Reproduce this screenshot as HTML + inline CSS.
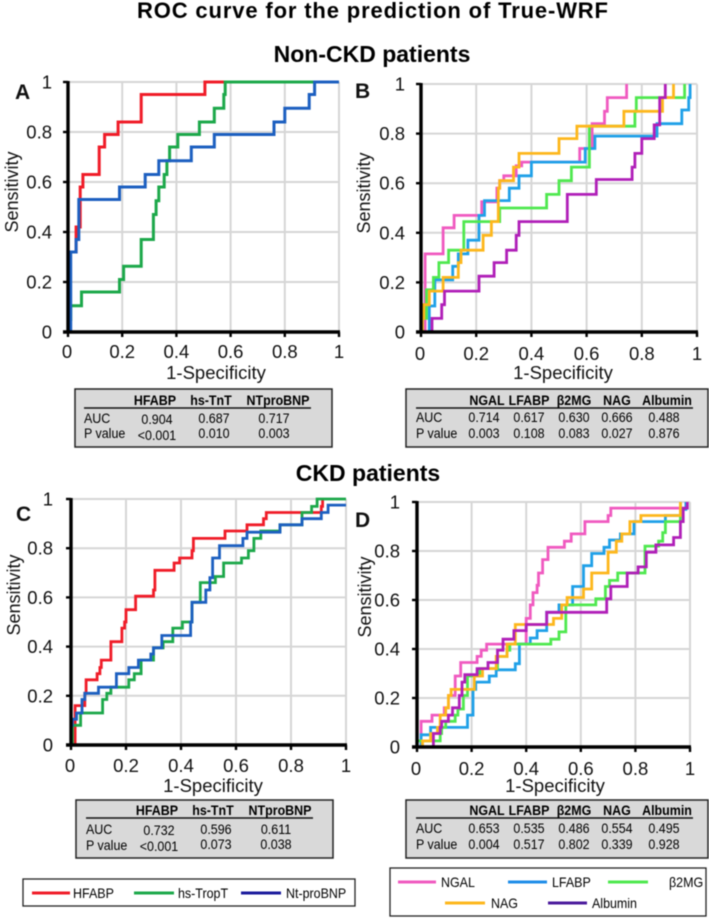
<!DOCTYPE html>
<html lang="en">
<head>
<meta charset="utf-8">
<title>ROC curve for the prediction of True-WRF</title>
<style>
html,body{margin:0;padding:0;background:#fff;}
body{width:709px;height:918px;overflow:hidden;}
svg{display:block;font-family:"Liberation Sans",sans-serif;filter:blur(0.45px);}
.tb{font-size:14px;font-weight:bold;text-anchor:middle;fill:#000;}
.tv{font-size:14px;text-anchor:middle;fill:#000;}
.tl{font-size:14px;fill:#000;}
.lg{font-size:14px;fill:#000;}
.box{fill:#d9d9d9;stroke:#222;stroke-width:1.5;}
.rule{stroke:#111;stroke-width:1.5;}
</style>
</head>
<body>
<svg id="figure" xmlns="http://www.w3.org/2000/svg" width="709" height="918" viewBox="0 0 709 918">
  <text x="137" y="18" font-size="22" font-weight="bold" textLength="471" lengthAdjust="spacing" fill="#000">ROC curve for the prediction of True-WRF</text>
  <text x="372" y="62" font-size="23" font-weight="bold" text-anchor="middle" fill="#000">Non-CKD patients</text>
  <text x="368" y="481" font-size="23" font-weight="bold" text-anchor="middle" fill="#000">CKD patients</text>

  <g id="panels"></g>

  <g>
    <rect class="box" x="75" y="389" width="257" height="58"/>
    <line class="rule" x1="84" x2="311" y1="408" y2="408"/>
    <text class="tb" x="155" y="405">HFABP</text><text class="tb" x="211" y="405">hs-TnT</text><text class="tb" x="278" y="405">NTproBNP</text>
    <text class="tl" x="84" y="423">AUC</text><text class="tv" x="157" y="424">0.904</text><text class="tv" x="214" y="423">0.687</text><text class="tv" x="274" y="423">0.717</text>
    <text class="tl" x="84" y="438">P value</text><text class="tv" x="157" y="440">&lt;0.001</text><text class="tv" x="214" y="438">0.010</text><text class="tv" x="274" y="438">0.003</text>
  </g>
  <g>
    <rect class="box" x="406" y="389" width="302" height="58"/>
    <line class="rule" x1="416" x2="693" y1="408" y2="408"/>
    <text class="tb" x="487" y="405">NGAL</text><text class="tb" x="529" y="405">LFABP</text><text class="tb" x="574" y="405" font-family="'Liberation Sans','DejaVu Sans',sans-serif">β2MG</text><text class="tb" x="617" y="405">NAG</text><text class="tb" x="667" y="405">Albumin</text>
    <text class="tl" x="416" y="422">AUC</text><text class="tv" x="484" y="422">0.714</text><text class="tv" x="529" y="422">0.617</text><text class="tv" x="574" y="422">0.630</text><text class="tv" x="617" y="422">0.666</text><text class="tv" x="664" y="422">0.488</text>
    <text class="tl" x="416" y="438">P value</text><text class="tv" x="484" y="438">0.003</text><text class="tv" x="529" y="438">0.108</text><text class="tv" x="574" y="438">0.083</text><text class="tv" x="617" y="438">0.027</text><text class="tv" x="664" y="438">0.876</text>
  </g>
  <g>
    <rect class="box" x="76" y="800" width="257" height="58"/>
    <line class="rule" x1="86" x2="313" y1="818" y2="818"/>
    <text class="tb" x="157" y="815">HFABP</text><text class="tb" x="213" y="815">hs-TnT</text><text class="tb" x="280" y="815">NTproBNP</text>
    <text class="tl" x="86" y="834">AUC</text><text class="tv" x="159" y="835">0.732</text><text class="tv" x="216" y="834">0.596</text><text class="tv" x="276" y="834">0.611</text>
    <text class="tl" x="86" y="850">P value</text><text class="tv" x="159" y="851">&lt;0.001</text><text class="tv" x="216" y="849">0.073</text><text class="tv" x="276" y="849">0.038</text>
  </g>
  <g>
    <rect class="box" x="406" y="800" width="302" height="58"/>
    <line class="rule" x1="416" x2="693" y1="818" y2="818"/>
    <text class="tb" x="487" y="815">NGAL</text><text class="tb" x="529" y="815">LFABP</text><text class="tb" x="574" y="815" font-family="'Liberation Sans','DejaVu Sans',sans-serif">β2MG</text><text class="tb" x="617" y="815">NAG</text><text class="tb" x="667" y="815">Albumin</text>
    <text class="tl" x="416" y="833">AUC</text><text class="tv" x="484" y="833">0.653</text><text class="tv" x="529" y="833">0.535</text><text class="tv" x="574" y="833">0.486</text><text class="tv" x="617" y="833">0.554</text><text class="tv" x="664" y="833">0.495</text>
    <text class="tl" x="416" y="849">P value</text><text class="tv" x="484" y="849">0.004</text><text class="tv" x="529" y="849">0.517</text><text class="tv" x="574" y="849">0.802</text><text class="tv" x="617" y="849">0.339</text><text class="tv" x="664" y="849">0.928</text>
  </g>

  <g>
    <rect x="23" y="879" width="332" height="27" fill="#fff" stroke="#222" stroke-width="1.3"/>
    <line x1="32" x2="70" y1="893" y2="893" stroke="#f01c28" stroke-width="3"/>
    <text class="lg" x="73" y="898">HFABP</text>
    <line x1="134" x2="174" y1="893" y2="893" stroke="#1ca84a" stroke-width="3"/>
    <text class="lg" x="178" y="898">hs-TropT</text>
    <line x1="241" x2="281" y1="893" y2="893" stroke="#1a1a9c" stroke-width="3"/>
    <text class="lg" x="286" y="898">Nt-proBNP</text>
  </g>
  <g>
    <rect x="390" y="868" width="316" height="48" fill="#fff" stroke="#222" stroke-width="1.3"/>
    <line x1="398" x2="436" y1="882" y2="882" stroke="#f05ac0" stroke-width="3"/>
    <text class="lg" x="441" y="887">NGAL</text>
    <line x1="508" x2="547" y1="882" y2="882" stroke="#1f8ee8" stroke-width="3"/>
    <text class="lg" x="552" y="887">LFABP</text>
    <line x1="608" x2="648" y1="882" y2="882" stroke="#4fe84f" stroke-width="3"/>
    <text class="lg" x="669" y="887">β2MG</text>
    <line x1="445" x2="485" y1="903" y2="903" stroke="#fdb71c" stroke-width="3"/>
    <text class="lg" x="491" y="908">NAG</text>
    <line x1="548" x2="587" y1="903" y2="903" stroke="#4b1a9c" stroke-width="3"/>
    <text class="lg" x="592" y="908">Albumin</text>
  </g>
</svg>
<script>
// Axis tick labels
const tickValues = [0, 0.2, 0.4, 0.6, 0.8, 1];
const tickLabels = ["0", "0.2", "0.4", "0.6", "0.8", "1"];

// Panel A (Non-CKD): each (x[i], y[i]) = run to x[i], then rise to y[i]
const aHfabpX = [0, 0.03, 0.045, 0.055, 0.115, 0.135, 0.185, 0.255, 0.27, 0.505, 0.58];
const aHfabpY = [0.32, 0.42, 0.58, 0.63, 0.74, 0.79, 0.84, 0.84, 0.95, 1, 1];
const aTntX = [0, 0.01, 0.05, 0.19, 0.205, 0.27, 0.315, 0.325, 0.335, 0.355, 0.365, 0.375, 0.405, 0.485, 0.54, 0.575, 0.58, 0.91];
const aTntY = [0.05, 0.105, 0.16, 0.21, 0.263, 0.37, 0.47, 0.525, 0.58, 0.63, 0.685, 0.74, 0.79, 0.84, 0.895, 0.95, 1, 1];
const aBnpX = [0.01, 0.03, 0.04, 0.19, 0.285, 0.335, 0.455, 0.54, 0.76, 0.8, 0.89, 0.91, 1];
const aBnpY = [0.32, 0.37, 0.53, 0.58, 0.63, 0.685, 0.74, 0.79, 0.84, 0.895, 0.95, 1, 1];

// Panel B (Non-CKD)
const bNgalX = [0.015, 0.08, 0.12, 0.22, 0.275, 0.285, 0.3, 0.345, 0.365, 0.575, 0.62, 0.665, 0.675, 0.745];
const bNgalY = [0.315, 0.42, 0.47, 0.525, 0.58, 0.61, 0.63, 0.67, 0.685, 0.74, 0.84, 0.89, 0.945, 1];
const bLfabpX = [0.03, 0.05, 0.115, 0.135, 0.17, 0.21, 0.23, 0.32, 0.355, 0.4, 0.595, 0.63, 0.855, 0.945, 0.97, 0.975];
const bLfabpY = [0.105, 0.21, 0.265, 0.315, 0.37, 0.47, 0.53, 0.58, 0.63, 0.685, 0.74, 0.79, 0.84, 0.895, 0.945, 1];
const bB2mgX = [0.005, 0.02, 0.045, 0.065, 0.1, 0.155, 0.285, 0.455, 0.5, 0.545, 0.61, 0.775, 0.78, 0.955];
const bB2mgY = [0.055, 0.17, 0.22, 0.28, 0.33, 0.445, 0.5, 0.555, 0.61, 0.665, 0.83, 0.89, 0.945, 1];
const bNagX = [0.005, 0.01, 0.03, 0.08, 0.135, 0.145, 0.225, 0.255, 0.28, 0.285, 0.335, 0.355, 0.5, 0.565, 0.735, 0.875, 0.915];
const bNagY = [0.055, 0.11, 0.165, 0.22, 0.28, 0.33, 0.39, 0.445, 0.58, 0.61, 0.665, 0.72, 0.78, 0.83, 0.89, 0.945, 1];
const bAlbX = [0.04, 0.075, 0.085, 0.21, 0.265, 0.31, 0.345, 0.355, 0.53, 0.635, 0.765, 0.775, 0.8, 0.845, 0.865, 0.885];
const bAlbY = [0.055, 0.11, 0.165, 0.225, 0.28, 0.33, 0.39, 0.445, 0.555, 0.615, 0.665, 0.72, 0.78, 0.835, 0.945, 1];

// Panel C (CKD)
const cHfabpX = [0.015, 0.05, 0.055, 0.095, 0.105, 0.11, 0.145, 0.185, 0.195, 0.2, 0.235, 0.3, 0.305, 0.375, 0.395, 0.44, 0.445, 0.56, 0.64, 0.7, 0.71, 0.91, 0.915];
const cHfabpY = [0.16, 0.21, 0.265, 0.29, 0.315, 0.345, 0.42, 0.475, 0.5, 0.55, 0.605, 0.63, 0.71, 0.74, 0.76, 0.79, 0.84, 0.87, 0.895, 0.92, 0.945, 0.97, 1];
const cTntX = [0.005, 0.035, 0.115, 0.13, 0.145, 0.21, 0.23, 0.255, 0.3, 0.335, 0.37, 0.405, 0.44, 0.47, 0.525, 0.555, 0.62, 0.645, 0.665, 0.69, 0.76, 0.84, 0.875, 0.895, 1];
const cTntY = [0.08, 0.13, 0.185, 0.21, 0.235, 0.265, 0.29, 0.345, 0.395, 0.42, 0.475, 0.5, 0.58, 0.66, 0.685, 0.74, 0.76, 0.79, 0.84, 0.87, 0.895, 0.945, 0.97, 1, 1];
const cBnpX = [0, 0.005, 0.02, 0.04, 0.05, 0.1, 0.165, 0.21, 0.245, 0.29, 0.3, 0.33, 0.435, 0.44, 0.49, 0.505, 0.515, 0.54, 0.625, 0.64, 0.76, 0.84, 0.91, 0.935, 1];
const cBnpY = [0.08, 0.105, 0.13, 0.185, 0.21, 0.235, 0.29, 0.315, 0.345, 0.37, 0.395, 0.445, 0.5, 0.58, 0.63, 0.68, 0.76, 0.81, 0.84, 0.865, 0.895, 0.92, 0.945, 0.975, 0.975];

// Panel D (CKD)
const dNgalX = [0.015, 0.055, 0.1, 0.115, 0.14, 0.16, 0.22, 0.235, 0.255, 0.4, 0.415, 0.425, 0.44, 0.445, 0.46, 0.48, 0.54, 0.565, 0.615, 0.7, 0.71, 0.965];
const dNgalY = [0.105, 0.13, 0.16, 0.21, 0.29, 0.345, 0.37, 0.395, 0.42, 0.525, 0.58, 0.63, 0.66, 0.71, 0.765, 0.815, 0.84, 0.87, 0.92, 0.945, 0.975, 1];
const dLfabpX = [0.015, 0.05, 0.185, 0.205, 0.215, 0.265, 0.29, 0.36, 0.375, 0.415, 0.44, 0.475, 0.52, 0.57, 0.61, 0.64, 0.685, 0.705, 0.745, 0.795, 0.91, 0.965, 0.985];
const dLfabpY = [0.05, 0.08, 0.13, 0.235, 0.265, 0.29, 0.315, 0.34, 0.42, 0.445, 0.475, 0.55, 0.58, 0.655, 0.74, 0.79, 0.815, 0.845, 0.87, 0.92, 0.945, 0.97, 1];
const dB2mgX = [0, 0.085, 0.09, 0.105, 0.14, 0.15, 0.17, 0.185, 0.23, 0.295, 0.33, 0.34, 0.49, 0.52, 0.545, 0.655, 0.69, 0.705, 0.735, 0.835, 0.885, 0.9, 0.91, 0.965];
const dB2mgY = [0.025, 0.055, 0.08, 0.105, 0.13, 0.155, 0.21, 0.29, 0.32, 0.37, 0.395, 0.42, 0.44, 0.47, 0.58, 0.605, 0.655, 0.68, 0.71, 0.82, 0.84, 0.875, 0.92, 1];
const dNagX = [0.02, 0.05, 0.075, 0.085, 0.105, 0.115, 0.125, 0.21, 0.24, 0.29, 0.33, 0.36, 0.5, 0.53, 0.55, 0.61, 0.64, 0.7, 0.73, 0.75, 0.78, 0.82, 0.965];
const dNagY = [0.025, 0.055, 0.08, 0.13, 0.16, 0.21, 0.235, 0.29, 0.32, 0.37, 0.42, 0.5, 0.525, 0.58, 0.61, 0.645, 0.71, 0.795, 0.84, 0.87, 0.92, 0.945, 1];
const dAlbX = [0.06, 0.085, 0.09, 0.115, 0.13, 0.155, 0.165, 0.175, 0.22, 0.26, 0.295, 0.315, 0.355, 0.4, 0.475, 0.695, 0.71, 0.77, 0.81, 0.84, 0.875, 0.94, 0.965, 0.975, 0.99];
const dAlbY = [0.055, 0.08, 0.105, 0.13, 0.16, 0.21, 0.265, 0.295, 0.32, 0.345, 0.395, 0.44, 0.475, 0.5, 0.55, 0.605, 0.655, 0.71, 0.735, 0.795, 0.825, 0.855, 0.92, 0.975, 1];

const SVG_NS = "http://www.w3.org/2000/svg";
const panelsRoot = document.getElementById("panels");

function makeEl(tag, parent) {
  const el = document.createElementNS(SVG_NS, tag);
  parent.appendChild(el);
  return el;
}

function drawPanel(opts) {
  const g = makeEl("g", panelsRoot);
  
  
  const sx = v => opts.x0 + v * (opts.x1 - opts.x0);
  const sy = v => opts.y0 + v * (opts.y1 - opts.y0);

  tickValues.forEach((t, i) => {
    if (t === 0) return;
    const vg = makeEl("line", g);
    
    
    vg.setAttribute("x1", sx(t)); vg.setAttribute("x2", sx(t));
    vg.setAttribute("y1", opts.y0); vg.setAttribute("y2", opts.y1);
    vg.setAttribute("stroke", "#d6d6d6"); vg.setAttribute("stroke-width", "2");
    const hg = makeEl("line", g);
    
    
    hg.setAttribute("x1", opts.x0); hg.setAttribute("x2", opts.x1);
    hg.setAttribute("y1", sy(t)); hg.setAttribute("y2", sy(t));
    hg.setAttribute("stroke", "#d6d6d6"); hg.setAttribute("stroke-width", "2");
  });

  opts.series.forEach(s => {
    let d = "M" + sx(0) + " " + sy(0);
    s.xs.forEach((v, i) => {
      d += "H" + sx(v).toFixed(1) + "V" + sy(s.ys[i]).toFixed(1);
    });
    const p = makeEl("path", g);
    
    
    p.setAttribute("d", d);
    p.setAttribute("fill", "none");
    p.setAttribute("stroke", s.color);
    p.setAttribute("stroke-width", opts.lw);
    p.setAttribute("stroke-linejoin", "miter");
  });

  const yAxis = makeEl("line", g);
  
  
  yAxis.setAttribute("x1", opts.x0); yAxis.setAttribute("x2", opts.x0);
  yAxis.setAttribute("y1", opts.y1 - 1); yAxis.setAttribute("y2", opts.y0 + 1);
  yAxis.setAttribute("stroke", "#000"); yAxis.setAttribute("stroke-width", "3.4");
  const xAxis = makeEl("line", g);
  
  
  xAxis.setAttribute("x1", opts.x0 - 5); xAxis.setAttribute("x2", opts.x1 + 1);
  xAxis.setAttribute("y1", opts.y0); xAxis.setAttribute("y2", opts.y0);
  xAxis.setAttribute("stroke", "#000"); xAxis.setAttribute("stroke-width", "3.4");

  tickValues.forEach((t, i) => {
    const yt = makeEl("line", g);
    
    
    yt.setAttribute("x1", opts.x0 - 5); yt.setAttribute("x2", opts.x0);
    yt.setAttribute("y1", sy(t)); yt.setAttribute("y2", sy(t));
    yt.setAttribute("stroke", "#000"); yt.setAttribute("stroke-width", "2.4");
    const xt = makeEl("line", g);
    
    
    xt.setAttribute("x1", sx(t)); xt.setAttribute("x2", sx(t));
    xt.setAttribute("y1", opts.y0); xt.setAttribute("y2", opts.y0 + 5);
    xt.setAttribute("stroke", "#000"); xt.setAttribute("stroke-width", "2.4");

    const yl = makeEl("text", g);
    
    
    yl.setAttribute("x", opts.yTickRight);
    yl.setAttribute("y", sy(t) + 6.5);
    yl.setAttribute("text-anchor", "end");
    yl.setAttribute("font-size", "18.5");
    yl.setAttribute("fill", "#111");
    yl.textContent = tickLabels[i];
    const xl = makeEl("text", g);
    
    
    xl.setAttribute("x", sx(t) - (t === 0 ? 1 : 0));
    xl.setAttribute("y", opts.xTickBase);
    xl.setAttribute("text-anchor", "middle");
    xl.setAttribute("font-size", "18.5");
    xl.setAttribute("fill", "#111");
    xl.textContent = tickLabels[i];
  });

  const xTitle = makeEl("text", g);
  
  
  xTitle.setAttribute("x", opts.xTitleX);
  xTitle.setAttribute("y", opts.xTitleY);
  xTitle.setAttribute("text-anchor", "middle");
  xTitle.setAttribute("font-size", "18.5");
  xTitle.setAttribute("fill", "#111");
  xTitle.textContent = "1-Specificity";

  const yTitle = makeEl("text", g);
  
  
  yTitle.setAttribute("transform", "translate(" + opts.yTitleX + " " + opts.yTitleY + ") rotate(-90)");
  yTitle.setAttribute("text-anchor", "middle");
  yTitle.setAttribute("font-size", "18");
  yTitle.setAttribute("fill", "#111");
  yTitle.textContent = "Sensitivity";

  const letter = makeEl("text", g);
  
  
  letter.setAttribute("x", opts.letterX);
  letter.setAttribute("y", opts.letterY);
  letter.setAttribute("font-size", "21");
  letter.setAttribute("font-weight", "bold");
  letter.setAttribute("fill", "#111");
  letter.textContent = opts.id.toUpperCase();
}

const RED = "#f01c28", GREEN = "#1ca84a", BLUE = "#1c5fc0";
const PINK = "#f05ac0", SKY = "#1fa0e8", LIME = "#4fe84f", AMBER = "#fdb71c", PURPLE = "#b01fb8";

drawPanel({
  id: "a", x0: 68, x1: 339, y0: 332, y1: 82, lw: 3,
  yTickRight: 52, xTickBase: 358, xTitleX: 216, xTitleY: 379, yTitleX: 18, yTitleY: 192, letterX: 15, letterY: 99,
  series: [
    { name: "hfabp", color: RED, xs: aHfabpX, ys: aHfabpY },
    { name: "hs-tnt", color: GREEN, xs: aTntX, ys: aTntY },
    { name: "ntprobnp", color: BLUE, xs: aBnpX, ys: aBnpY }
  ]
});
drawPanel({
  id: "b", x0: 421, x1: 697, y0: 332, y1: 84, lw: 2.8,
  yTickRight: 405, xTickBase: 360, xTitleX: 563, xTitleY: 379, yTitleX: 370, yTitleY: 193, letterX: 355, letterY: 98,
  series: [
    { name: "ngal", color: PINK, xs: bNgalX, ys: bNgalY },
    { name: "lfabp", color: SKY, xs: bLfabpX, ys: bLfabpY },
    { name: "b2mg", color: LIME, xs: bB2mgX, ys: bB2mgY },
    { name: "nag", color: AMBER, xs: bNagX, ys: bNagY },
    { name: "albumin", color: PURPLE, xs: bAlbX, ys: bAlbY }
  ]
});
drawPanel({
  id: "c", x0: 71, x1: 346, y0: 745, y1: 499, lw: 2.8,
  yTickRight: 53, xTickBase: 772, xTitleX: 213, xTitleY: 792, yTitleX: 20, yTitleY: 595, letterX: 16, letterY: 521,
  series: [
    { name: "hfabp", color: RED, xs: cHfabpX, ys: cHfabpY },
    { name: "hs-tnt", color: GREEN, xs: cTntX, ys: cTntY },
    { name: "ntprobnp", color: BLUE, xs: cBnpX, ys: cBnpY }
  ]
});
drawPanel({
  id: "d", x0: 417, x1: 690, y0: 747, y1: 502, lw: 2.8,
  yTickRight: 400, xTickBase: 775, xTitleX: 555, xTitleY: 792, yTitleX: 371, yTitleY: 597, letterX: 355, letterY: 527,
  series: [
    { name: "ngal", color: PINK, xs: dNgalX, ys: dNgalY },
    { name: "lfabp", color: SKY, xs: dLfabpX, ys: dLfabpY },
    { name: "b2mg", color: LIME, xs: dB2mgX, ys: dB2mgY },
    { name: "nag", color: AMBER, xs: dNagX, ys: dNagY },
    { name: "albumin", color: PURPLE, xs: dAlbX, ys: dAlbY }
  ]
});

// Table and legend text in the reference is slightly condensed
document.querySelectorAll(".tb,.tv,.tl,.lg").forEach(t => {
  t.setAttribute("textLength", (t.getComputedTextLength() * 0.89).toFixed(1));
  t.setAttribute("lengthAdjust", "spacingAndGlyphs");
});
</script>
</body>
</html>
